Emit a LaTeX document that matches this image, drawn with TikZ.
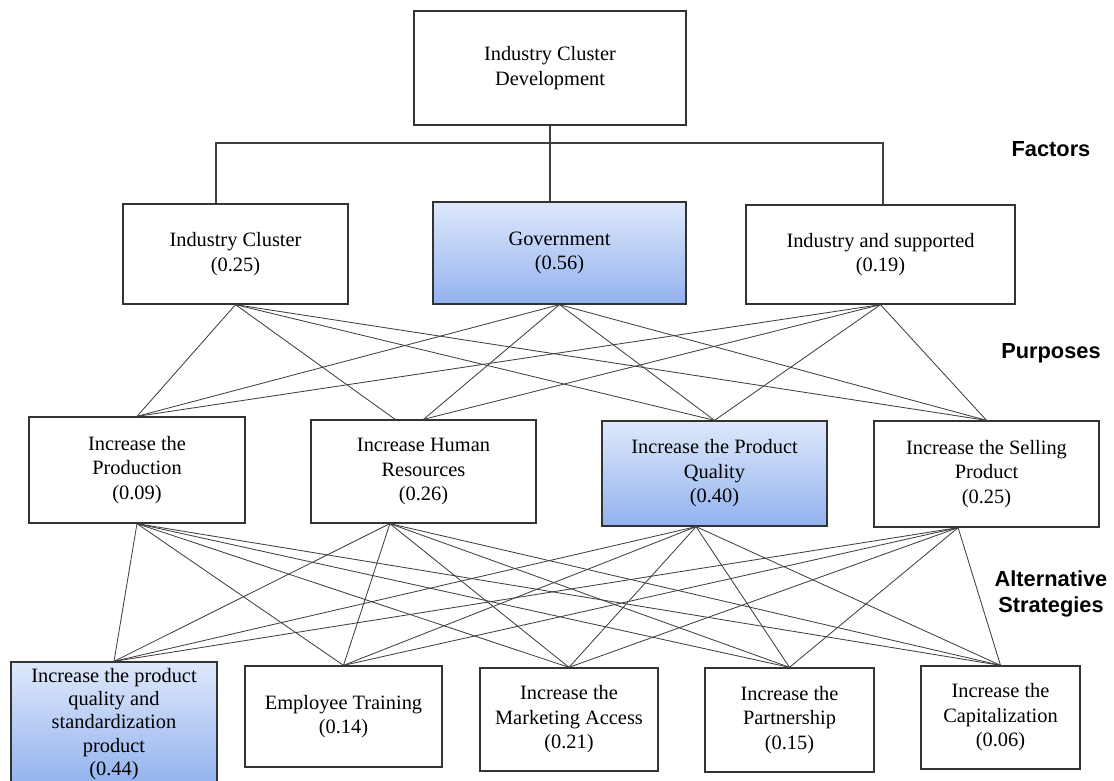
\documentclass[tikz,border=0pt]{standalone}
\usepackage{fontspec}
\setmainfont{Liberation Serif}
\setsansfont{Liberation Sans}
\usepackage{tikz}
\definecolor{hiTop}{RGB}{222,232,251}
\definecolor{hiBot}{RGB}{146,178,238}

\begin{document}
\begin{tikzpicture}[x=0.025cm, y=-0.025cm,
		box/.style={draw=black!80, line width=0.9pt, align=center, inner sep=1pt, fill=white,
			font=\fontsize{14.5}{17.4}\selectfont},
		hilite/.style={top color=hiTop, bottom color=hiBot},
		link/.style={draw=black!75, line width=0.6pt},
		level/.style={align=center, font=\fontsize{15.5}{18.5}\sffamily\bfseries}]
		\useasboundingbox (0,0) rectangle (1114,781);
		
		\node[box, minimum width=6.8cm, minimum height=2.85cm] (top) at (550,68) {Industry Cluster\\Development};
		
		\node[box, minimum width=5.625cm, minimum height=2.5cm] (ic) at (235.5,254) {Industry Cluster\\(0.25)};
		\node[box, hilite, minimum width=6.325cm, minimum height=2.55cm] (gov) at (559.5,253) {Government\\(0.56)};
		\node[box, minimum width=6.725cm, minimum height=2.475cm] (sup) at (880.5,254.5) {Industry and supported\\(0.19)};
		
		\node[box, minimum width=5.4cm, minimum height=2.65cm] (prod) at (137,470) {Increase the\\Production\\(0.09)};
		\node[box, minimum width=5.625cm, minimum height=2.575cm] (hr) at (423.5,471.5) {Increase Human\\Resources\\(0.26)};
		\node[box, hilite, minimum width=5.625cm, minimum height=2.625cm] (qual) at (714.5,473.5) {Increase the Product\\Quality\\(0.40)};
		\node[box, minimum width=5.625cm, minimum height=2.65cm] (sell) at (986.5,474) {Increase the Selling\\Product\\(0.25)};
		
		\node[box, hilite, minimum width=5.15cm, minimum height=3.1cm, font=\fontsize{14.5}{16.6}\selectfont] (std) at (114,724) {Increase the product\\quality and\\standardization\\product\\(0.44)};
		\node[box, minimum width=4.925cm, minimum height=2.525cm] (train) at (343.5,716.5) {Employee Training\\(0.14)};
		\node[box, minimum width=4.45cm, minimum height=2.575cm] (mkt) at (569,719.5) {Increase the\\Marketing Access\\(0.21)};
		\node[box, minimum width=4.225cm, minimum height=2.6cm] (part) at (789.5,720) {Increase the\\Partnership\\(0.15)};
		\node[box, minimum width=3.975cm, minimum height=2.575cm] (cap) at (1000.5,717.5) {Increase the\\Capitalization\\(0.06)};
		
		\node[level] (lfac) at (1051,149) {Factors};
		\node[level] (lpur) at (1051,353) {Purposes};
		\node[level] (lalt) at (1051,594) {Alternative\\Strategies};
		
		% tree from the goal to the factors
		\coordinate (busL) at (216,143);
		\coordinate (busR) at (883,143);
		\draw[link, line width=0.8pt] (busL |- ic.north) -- (busL) -- (busR) -- (busR |- sup.north);
		\draw[link, line width=0.8pt] (top.south) -- (top.south |- gov.north);
		
		% factors to purposes
		\coordinate (hrIn) at ([xshift=-0.71cm]hr.north);
		\foreach \f in {ic,gov,sup}
			\foreach \p in {prod,qual,sell}
				\draw[link] (\f.south) -- (\p.north);
		\draw[link] (ic.south) -- (hrIn);
		\draw[link] (gov.south) -- (hr.north);
		\draw[link] (sup.south) -- (hr.north);
		
		% purposes to strategies
		\coordinate (prodOut) at (prod.south);
		\coordinate (hrOut) at ([xshift=-0.84cm]hr.south);
		\coordinate (qualOut) at ([xshift=-0.46cm]qual.south);
		\coordinate (sellOut) at ([xshift=-0.71cm]sell.south);
		\foreach \p in {prodOut,hrOut,qualOut,sellOut}
			\foreach \a in {std,train,mkt,part,cap}
				\draw[link] (\p) -- (\a.north);
\end{tikzpicture}
\end{document}
